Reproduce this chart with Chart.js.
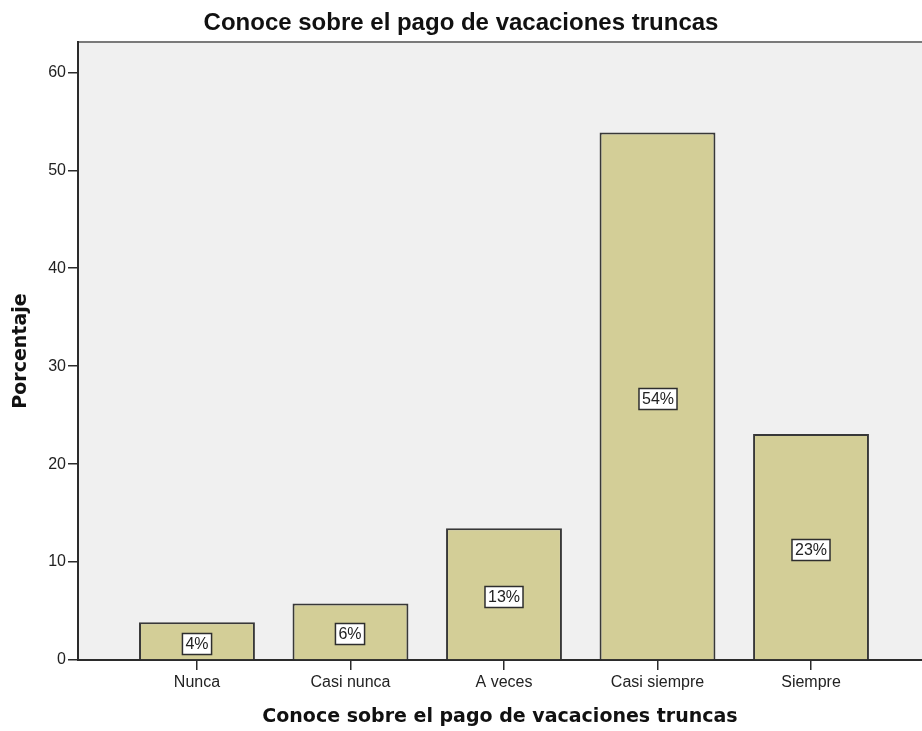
<!DOCTYPE html>
<html>
<head>
<meta charset="utf-8">
<title>Conoce sobre el pago de vacaciones truncas</title>
<script src="https://cdn.jsdelivr.net/npm/chart.js@4.4.1/dist/chart.umd.min.js"></script>
<style>
  html, body { margin: 0; padding: 0; background: #fff; }
  canvas { display: block; }
</style>
</head>
<body>
<canvas id="chart" width="922" height="731"></canvas>
<script>
const categories = ['Nunca', 'Casi nunca', 'A veces', 'Casi siempre', 'Siempre'];
const percentages = [3.85, 5.77, 13.46, 53.85, 23.08];
const yTicks = [0, 10, 20, 30, 40, 50, 60];

const COLORS = {
  bar: '#d3ce97',
  barBorder: '#383838',
  plotBg: '#f0f0f0',
  axis: '#2b2b2b',
  frame: '#7a7a7a',
  text: '#222222',
};

const plotBackground = {
  id: 'plotBackground',
  beforeDraw(chart) {
    const { ctx, chartArea: a } = chart;
    ctx.save();
    ctx.fillStyle = COLORS.plotBg;
    ctx.fillRect(a.left, a.top, a.right - a.left, a.bottom - a.top);
    ctx.strokeStyle = COLORS.frame;
    ctx.lineWidth = 2;
    ctx.beginPath();
    ctx.moveTo(a.left, a.top);
    ctx.lineTo(a.right, a.top);
    ctx.stroke();
    ctx.restore();
  },
};

// white boxed percentage labels in the middle of each bar
const boxLabels = {
  id: 'boxLabels',
  afterDatasetsDraw(chart) {
    const { ctx } = chart;
    const meta = chart.getDatasetMeta(0);
    ctx.save();
    ctx.font = '16px "Liberation Sans", Arial, sans-serif';
    ctx.textAlign = 'center';
    ctx.textBaseline = 'middle';
    meta.data.forEach((bar, i) => {
      const text = Math.round(percentages[i]) + '%';
      const w = ctx.measureText(text).width + 6;
      const h = 21;
      const cx = Math.round(bar.x);
      const cy = Math.round((bar.y + bar.base) / 2 + 3);
      ctx.fillStyle = '#ffffff';
      ctx.fillRect(cx - w / 2, cy - h / 2, w, h);
      ctx.strokeStyle = '#2e2e2e';
      ctx.lineWidth = 1.5;
      ctx.strokeRect(cx - w / 2, cy - h / 2, w, h);
      ctx.fillStyle = COLORS.text;
      ctx.fillText(text, cx, cy + 1);
    });
    ctx.restore();
  },
};

new Chart(document.getElementById('chart'), {
  type: 'bar',
  data: {
    datasets: [{
      data: categories.map((c, i) => ({ x: i, y: percentages[i] })),
      backgroundColor: COLORS.bar,
      borderColor: COLORS.barBorder,
      borderWidth: 2,
      barPercentage: 0.755,
      categoryPercentage: 1,
    }],
  },
  options: {
    responsive: false,
    animation: false,
    devicePixelRatio: 1,
    layout: { padding: 0 },
    plugins: {
      legend: { display: false },
      tooltip: { enabled: false },
      title: {
        display: true,
        text: 'Conoce sobre el pago de vacaciones truncas',
        color: '#111',
        font: { family: '"Liberation Sans", Arial, sans-serif', size: 24, weight: 'bold', lineHeight: 1.2 },
        padding: { top: 9, bottom: 4.2 },
      },
    },
    scales: {
      x: {
        type: 'linear',
        min: -0.775,
        max: 4.723,
        offset: false,
        afterBuildTicks: s => { s.ticks = categories.map((c, i) => ({ value: i })); },
        afterFit: s => { s.height = 71; },
        ticks: {
          autoSkip: false,
          maxRotation: 0,
          padding: 3,
          color: COLORS.text,
          font: { family: '"Liberation Sans", Arial, sans-serif', size: 16 },
          callback: v => categories[v],
        },
        grid: { display: true, drawOnChartArea: false, offset: false, tickLength: 10, color: COLORS.axis, lineWidth: 1.5 },
        border: { display: true, color: COLORS.axis, width: 2 },
        title: {
          display: true,
          text: 'Conoce sobre el pago de vacaciones truncas',
          color: '#111',
          font: { family: '"DejaVu Sans", sans-serif', size: 19, weight: 'bold', lineHeight: 1.2 },
          padding: { top: 4, bottom: 3 },
        },
      },
      y: {
        min: 0,
        max: 63.1,
        afterBuildTicks: s => { s.ticks = yTicks.map(v => ({ value: v })); },
        afterFit: s => { s.width = 78; },
        ticks: {
          padding: 2,
          color: COLORS.text,
          font: { family: '"Liberation Sans", Arial, sans-serif', size: 16 },
        },
        grid: { display: true, drawOnChartArea: false, tickLength: 10, color: COLORS.axis, lineWidth: 1.5 },
        border: { display: true, color: COLORS.axis, width: 2 },
        title: {
          display: true,
          text: 'Porcentaje',
          color: '#111',
          font: { family: '"DejaVu Sans", sans-serif', size: 19, weight: 'bold', lineHeight: 1.2 },
          padding: { top: 10, bottom: 0 },
        },
      },
    },
  },
  plugins: [plotBackground, boxLabels],
});
</script>
</body>
</html>
